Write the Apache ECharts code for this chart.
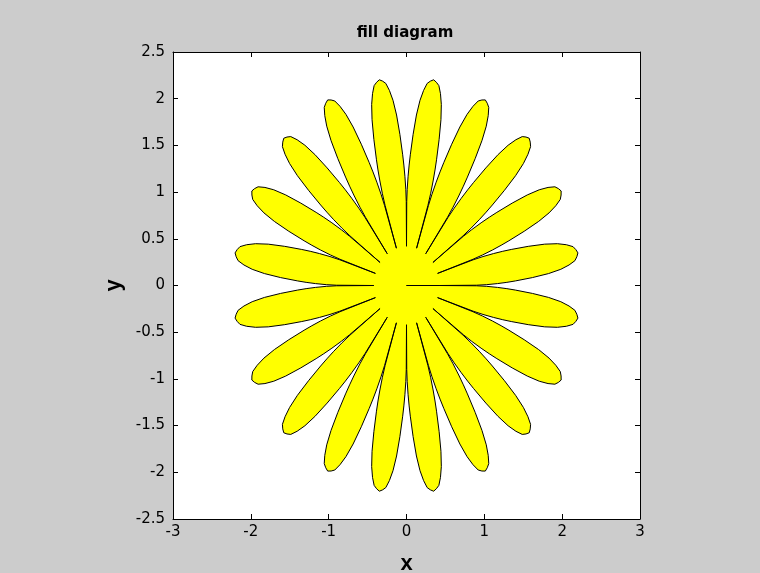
<!DOCTYPE html>
<html>
<head>
<meta charset="utf-8">
<script src="https://cdn.jsdelivr.net/npm/echarts@6/dist/echarts.min.js"></script>
<style>
  html, body { margin: 0; padding: 0; background: #cccccc; }
  #chart { width: 760px; height: 573px; }
</style>
</head>
<body>
<div id="chart"></div>
<script>
// axis ticks
const xTicks = [-3, -2, -1, 0, 1, 2, 3];
const yTicks = [-2.5, -2, -1.5, -1, -0.5, 0, 0.5, 1, 1.5, 2, 2.5];

// direction of each petal tip (degrees)
const petalAngles = [9, 27, 45, 63, 81, 99, 117, 135, 153, 171,
                     189, 207, 225, 243, 261, 279, 297, 315, 333, 351];

// one petal outline: angle away from the petal axis (deg) -> radius
const petalOffset = [0, 1, 2, 3, 4, 5, 6, 7, 7.5, 8, 8.5, 8.8, 9];
const petalRadius = [2.23, 2.21, 2.18, 2.1, 1.99, 1.83, 1.62, 1.40, 1.29, 1.17, 1.03, 0.90, 0.42];

// the outline starts at the origin
const startPoint = [0, 0];

// build the closed outline (polar -> x/y), petal after petal
const outline = [startPoint];
petalAngles.forEach((a) => {
  for (let i = petalOffset.length - 1; i >= 0; i--) {
    const t = (a - petalOffset[i]) * Math.PI / 180;
    outline.push([petalRadius[i] * Math.cos(t), petalRadius[i] * Math.sin(t)]);
  }
  for (let i = 1; i < petalOffset.length; i++) {
    const t = (a + petalOffset[i]) * Math.PI / 180;
    outline.push([petalRadius[i] * Math.cos(t), petalRadius[i] * Math.sin(t)]);
  }
});

const tickFont = { fontFamily: "DejaVu Sans", fontSize: 15, color: "#000" };
const axisLine = { show: true, onZero: false, lineStyle: { color: "#000", width: 1 } };
const axisTick = { show: true, inside: true, length: 5, lineStyle: { color: "#000" } };

const chart = echarts.init(document.getElementById("chart"));
chart.setOption({
  backgroundColor: "#cccccc",
  animation: false,
  title: {
    text: "fill diagram",
    left: 405,
    top: 26,
    textAlign: "center",
    padding: 0,
    textStyle: { fontFamily: "DejaVu Sans", fontWeight: "bold", fontSize: 15, color: "#000" },
  },
  grid: {
    left: 173, top: 52, right: 120, bottom: 54,
    outerBoundsMode: "none",
    show: true, backgroundColor: "#ffffff", borderWidth: 0,
  },
  xAxis: [
    {
      type: "value", min: xTicks[0], max: xTicks[xTicks.length - 1], interval: 1,
      position: "bottom",
      name: "x", nameLocation: "middle", nameGap: 34,
      nameTextStyle: { fontFamily: "Liberation Sans", fontWeight: "bold", fontSize: 22, color: "#000" },
      axisLine, axisTick, splitLine: { show: false },
      axisLabel: { ...tickFont, margin: 6 },
    },
    {
      type: "value", min: xTicks[0], max: xTicks[xTicks.length - 1], interval: 1,
      position: "top", axisLine, axisTick, splitLine: { show: false }, axisLabel: { show: false },
    },
  ],
  yAxis: [
    {
      type: "value", min: yTicks[0], max: yTicks[yTicks.length - 1], interval: 0.5,
      position: "left",
      name: "y", nameLocation: "middle", nameGap: 44, nameRotate: 90,
      nameTextStyle: { fontFamily: "Liberation Sans", fontWeight: "bold", fontSize: 22, color: "#000" },
      axisLine, axisTick, splitLine: { show: false },
      axisLabel: { ...tickFont, margin: 8 },
    },
    {
      type: "value", min: yTicks[0], max: yTicks[yTicks.length - 1], interval: 0.5,
      position: "right", axisLine, axisTick, splitLine: { show: false }, axisLabel: { show: false },
    },
  ],
  series: [
    {
      type: "custom",
      coordinateSystem: "cartesian2d",
      xAxisIndex: 0,
      yAxisIndex: 0,
      data: [0],
      silent: true,
      renderItem: (params, api) => ({
        type: "polygon",
        shape: { points: outline.map((p) => api.coord(p)) },
        style: { fill: "#ffff00", stroke: "#000", lineWidth: 1 },
      }),
    },
  ],
});
</script>
</body>
</html>
